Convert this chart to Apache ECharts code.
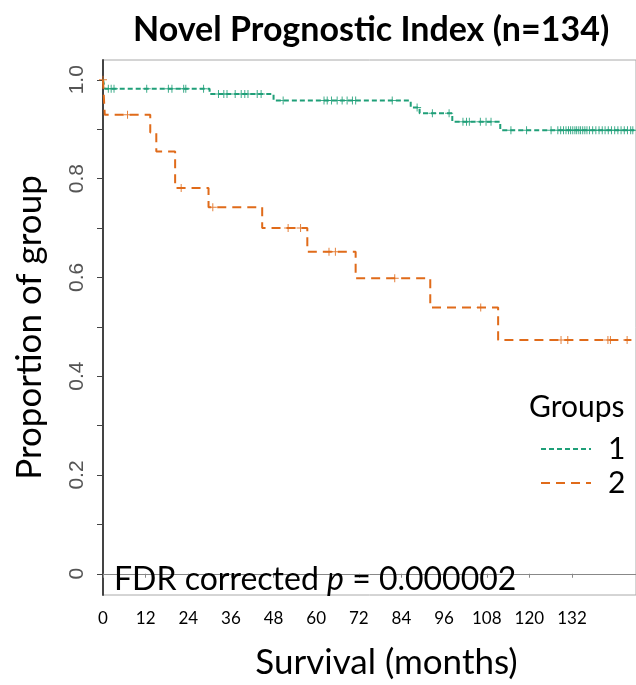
<!DOCTYPE html>
<html lang="en">
<head>
    <meta charset="UTF-8">
    <title>Novel Prognostic Index</title>
    <script src="https://cdn.jsdelivr.net/npm/echarts@6/dist/echarts.min.js"></script>
    <style>
        html, body { margin: 0; padding: 0; background: #fff; }
        #main { width: 636px; height: 685px; }
    </style>
</head>
<body>
    <div id="main"></div>
    <script type="text/javascript">
        // step points: time (months) where the curve drops, and the new survival level
        var g1Times = [0, 0.5, 30, 48, 86.6, 89.1, 98.3, 111.8, 149.5];
        var g1Surv = [1, 0.982, 0.971, 0.958, 0.944, 0.932, 0.915, 0.898, 0.898];
        var g2Times = [0, 0.5, 13.3, 15, 20.3, 29.7, 44.8, 57.5, 71.1, 92.1, 111.2, 148.7];
        var g2Surv = [1, 0.929, 0.893, 0.855, 0.781, 0.742, 0.700, 0.652, 0.598, 0.539, 0.473, 0.473];

        // censored times
        var g1Censor = [1.5, 2.3, 3.1, 12.3, 18.4, 19.4, 22.7, 23.3, 28.3,
            32.5, 34, 34.9, 37.2, 38.9, 39.9, 40.8, 43.4, 44.5,
            50.7, 62.2, 63.1, 64.3, 65.9, 67.3, 68.7, 70.2, 71.1, 81.4,
            88.4, 92.7, 97.4, 101.3, 102.3, 103.1, 106.2, 107.8, 109.2,
            114.8, 119.2, 126.1, 128, 128.8, 129.6, 130.3, 131, 131.6, 132.2,
            132.8, 133.3, 133.9, 134.4, 135, 135.6, 136.2, 136.9, 137.8, 138.7,
            139.6, 140.5, 141.3, 142.2, 143.1, 144, 144.9, 145.8, 146.7, 147.6,
            148.5, 149.1];
        var g2Censor = [0, 6.9, 22, 30.9, 52.1, 55.6, 63.6, 65.4, 82.1, 106.3,
            128.9, 130.8, 142.1, 142.8, 147.5];

        var xTicks = [0, 12, 24, 36, 48, 60, 72, 84, 96, 108, 120, 132];
        var yTicks = [0, 0.1, 0.2, 0.3, 0.4, 0.5, 0.6, 0.7, 0.8, 0.9, 1.0];
        var yLabels = [0, 0.2, 0.4, 0.6, 0.8, 1.0];

        var colors = ['#1f9f78', '#e06b1a'];
        var font = 'Lato, "Liberation Sans", sans-serif';

        function zip(xs, ys) {
            return xs.map(function (x, i) { return [x, ys[i]]; });
        }
        // survival level at a given time (for placing censor marks)
        function levelAt(times, surv, t) {
            var v = surv[0];
            for (var i = 0; i < times.length; i++) {
                if (times[i] <= t) v = surv[i];
            }
            return v;
        }
        function censorPts(times, surv, cs) {
            return cs.map(function (t) { return [t, levelAt(times, surv, t)]; });
        }

        var plus = 'path://M3.5,0h1v3.5h3.5v1h-3.5v3.5h-1v-3.5h-3.5v-1h3.5z';

        var myChart = echarts.init(document.getElementById('main'));

        var option = {
            animation: false,
            title: [{
                text: 'Novel Prognostic Index (n=134)',
                left: 128,
                top: 8,
                textStyle: { fontFamily: font, fontWeight: 'bold', fontSize: 34, color: '#000' }
            }, {
                text: '{a|FDR corrected }{b|p}{a| = 0.000002}',
                left: 109,
                top: 559,
                textStyle: {
                    fontWeight: 'normal',
                    rich: {
                        a: { fontFamily: font, fontSize: 32, fontWeight: 'normal', color: '#000' },
                        b: { fontFamily: font, fontSize: 32, fontWeight: 'normal', fontStyle: 'italic', color: '#000' }
                    }
                }
            }, {
                text: 'Groups',
                left: 524,
                top: 387,
                textStyle: { fontFamily: font, fontWeight: 'normal', fontSize: 30, color: '#000' }
            }],
            legend: {
                data: ['1', '2'],
                orient: 'vertical',
                left: 535,
                top: 429,
                itemWidth: 50,
                itemHeight: 14,
                itemGap: 4,
                itemStyle: { opacity: 0 },
                textStyle: { fontFamily: font, fontSize: 30, lineHeight: 20, color: '#000', padding: [0, 0, 0, 12] }
            },
            grid: {
                left: 103,
                right: 0,
                top: 60,
                bottom: 88,
                show: true,
                borderColor: '#aaa',
                borderWidth: 1
            },
            xAxis: {
                type: 'value',
                min: 0,
                max: 150,
                interval: 12,
                name: 'Survival (months)',
                nameLocation: 'middle',
                nameGap: 50,
                nameTextStyle: { fontFamily: font, fontSize: 35, color: '#000', padding: [0, 0, 0, 34] },
                axisLine: { lineStyle: { color: '#888', width: 1 } },
                axisTick: { customValues: xTicks, length: 4, lineStyle: { color: '#888' } },
                axisLabel: {
                    customValues: xTicks,
                    fontFamily: font, fontSize: 17, color: '#000', margin: 15
                },
                splitLine: { show: false }
            },
            yAxis: {
                type: 'value',
                min: -0.043,
                max: 1.04,
                name: 'Proportion of group',
                nameLocation: 'middle',
                nameGap: 56,
                nameTextStyle: { fontFamily: font, fontSize: 35, color: '#000' },
                axisLine: { lineStyle: { color: '#444', width: 2 } },
                axisTick: { customValues: yTicks, length: 6, lineStyle: { color: '#444' } },
                axisLabel: {
                    customValues: yLabels,
                    rotate: 90,
                    margin: 15,
                    fontFamily: '"Liberation Sans", Arial, sans-serif',
                    fontSize: 21,
                    color: '#555',
                    formatter: function (v) {
                        if (v === 0) return '0';
                        return v.toFixed(1);
                    }
                },
                splitLine: { show: false }
            },
            series: [{
                name: '1',
                type: 'line',
                step: 'end',
                symbol: 'none',
                data: zip(g1Times, g1Surv),
                lineStyle: { color: colors[0], width: 2, type: [5, 3] },
                itemStyle: { color: colors[0] }
            }, {
                name: '2',
                type: 'line',
                step: 'end',
                symbol: 'none',
                data: zip(g2Times, g2Surv),
                lineStyle: { color: colors[1], width: 2, type: [9, 6] },
                itemStyle: { color: colors[1] }
            }, {
                name: 'censor 1',
                type: 'scatter',
                symbol: plus,
                symbolSize: 8,
                data: censorPts(g1Times, g1Surv, g1Censor),
                itemStyle: { color: colors[0], opacity: 0.85 }
            }, {
                name: 'censor 2',
                type: 'scatter',
                symbol: plus,
                symbolSize: 8,
                data: censorPts(g2Times, g2Surv, g2Censor),
                itemStyle: { color: colors[1], opacity: 0.85 }
            }]
        };
        myChart.setOption(option);
    </script>
</body>
</html>
